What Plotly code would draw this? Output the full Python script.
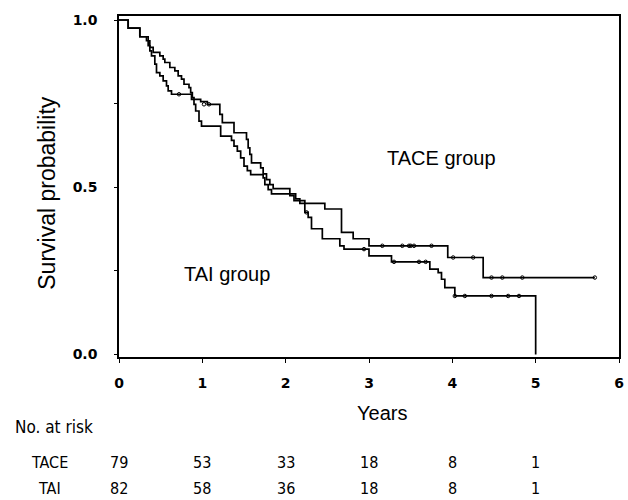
import plotly.graph_objects as go

# Kaplan-Meier step data (time in years, survival after step)
tace_t = [0, 0.11, 0.25, 0.33, 0.37, 0.41, 0.49, 0.53, 0.55, 0.61, 0.67, 0.71, 0.75, 0.78, 0.84, 0.86, 0.88,
          0.90, 0.92, 0.96, 0.99, 1.22, 1.35, 1.38, 1.42, 1.46, 1.50, 1.54, 1.58, 1.73, 1.75, 1.79, 1.83,
          2.12, 2.17, 2.47, 2.67, 2.81, 3.00, 3.945, 4.37, 5.71]
tace_s = [1.0, 0.976, 0.95, 0.938, 0.918, 0.903, 0.893, 0.883, 0.873, 0.858, 0.848, 0.833, 0.823, 0.808, 0.798, 0.783, 0.768,
          0.748, 0.728, 0.698, 0.683, 0.653, 0.64, 0.623, 0.608, 0.588, 0.563, 0.55, 0.538, 0.528, 0.508, 0.493, 0.48,
          0.465, 0.452, 0.435, 0.365, 0.346, 0.325, 0.29, 0.23, 0.23]
tace_cens_t = [3.16, 3.40, 3.48, 3.50, 3.54, 3.75, 4.01, 4.25, 4.47, 4.60, 4.84, 5.71]
tace_cens_s = [0.325, 0.325, 0.325, 0.325, 0.325, 0.325, 0.29, 0.29, 0.23, 0.23, 0.23, 0.23]

tai_t = [0, 0.11, 0.25, 0.35, 0.37, 0.39, 0.43, 0.45, 0.49, 0.53, 0.57, 0.59, 0.63, 0.87, 0.98, 1.06,
         1.21, 1.24, 1.38, 1.53, 1.55, 1.57, 1.59, 1.70, 1.73, 1.77, 1.81, 1.85, 2.05, 2.10, 2.23, 2.27, 2.31,
         2.44, 2.65, 2.70, 3.00, 3.27, 3.73, 3.83, 3.87, 3.91, 4.03, 5.0, 5.0]
tai_s = [1.0, 0.976, 0.95, 0.923, 0.908, 0.893, 0.868, 0.843, 0.833, 0.818, 0.803, 0.788, 0.778, 0.763, 0.756, 0.748,
         0.718, 0.693, 0.663, 0.643, 0.618, 0.598, 0.573, 0.558, 0.54, 0.523, 0.508, 0.496, 0.475, 0.46, 0.425, 0.41, 0.376,
         0.346, 0.325, 0.315, 0.295, 0.277, 0.255, 0.245, 0.225, 0.2, 0.175, 0.175, 0.0]
tai_cens_t = [0.72, 1.02, 1.08, 2.25, 2.94, 3.30, 3.60, 3.68, 4.03, 4.15, 4.47, 4.67, 4.80]
tai_cens_s = [0.778, 0.748, 0.748, 0.425, 0.315, 0.277, 0.277, 0.277, 0.175, 0.175, 0.175, 0.175, 0.175]

x_ticks = [0, 1, 2, 3, 4, 5, 6]
y_tickvals = [0, 0.25, 0.5, 0.75, 1.0]
y_ticktext = ["0.0", "", "0.5", "", "1.0"]

risk_years = [0, 1, 2, 3, 4, 5]
risk_tace = [79, 53, 33, 18, 8, 1]
risk_tai = [82, 58, 36, 18, 8, 1]

fig = go.Figure()
for t, s in [(tace_t, tace_s), (tai_t, tai_s)]:
    fig.add_trace(go.Scatter(x=t, y=s, mode="lines", line=dict(color="black", width=1.7, shape="hv"),
                             showlegend=False, hoverinfo="skip"))
for t, s in [(tace_cens_t, tace_cens_s), (tai_cens_t, tai_cens_s)]:
    fig.add_trace(go.Scatter(x=t, y=s, mode="markers",
                             marker=dict(symbol="circle-open", size=3.5, color="black", line=dict(width=1)),
                             showlegend=False, hoverinfo="skip"))

L, R, T, B = 119, 4, 16, 143
W, H = 628, 500
pw, ph = W - L - R, H - T - B

def px(X):
    return (X - L) / pw

def py(Y):
    return (H - B - Y) / ph

ann = []
arial = "Liberation Sans, Arial, sans-serif"
tah = "DejaVu Sans Condensed, DejaVu Sans, sans-serif"
ver = "DejaVu Sans, Verdana, sans-serif"

def add(text, X, Y, size, family, xanchor="center", angle=0, xref="paper", xval=None):
    ann.append(dict(text=text, x=px(X) if xval is None else xval, y=py(Y), xref=xref, yref="paper",
                    xanchor=xanchor, yanchor="middle", textangle=angle, showarrow=False,
                    font=dict(family=family, size=size, color="black")))

add("Survival probability", 46, 193, 23, arial, angle=-90)
add("Years", 385, 413, 20, arial)
add("TACE group", 388, 158, 20, arial, xanchor="left")
add("TAI group", 183, 274, 20, arial, xanchor="left")
add("No. at risk", 12, 427, 17, tah, xanchor="left")
add("TACE", 49, 462, 16, tah)
add("TAI", 49, 488, 16, tah)
for yr, a, b in zip(risk_years, risk_tace, risk_tai):
    add(str(a), 0, 462, 16, tah, xref="x", xval=yr)
    add(str(b), 0, 488, 16, tah, xref="x", xval=yr)

fig.update_layout(
    width=W, height=H, margin=dict(l=L, r=R, t=T, b=B, pad=0),
    paper_bgcolor="white", plot_bgcolor="white",
    annotations=ann,
    xaxis=dict(range=[0, 6], tickvals=x_ticks, ticks="outside", ticklen=4, tickwidth=1.2, tickcolor="black",
               showline=True, linecolor="black", linewidth=1.5, mirror=True, showgrid=False, zeroline=False,
               ticklabelstandoff=8, tickfont=dict(family=ver, size=14, color="black", weight="bold")),
    yaxis=dict(range=[-0.0075, 1.012], tickvals=y_tickvals, ticktext=y_ticktext, ticks="outside", ticklen=3,
               tickwidth=1.2, tickcolor="black", showline=True, linecolor="black", linewidth=1.5, mirror=True,
               showgrid=False, zeroline=False, ticklabelstandoff=14,
               tickfont=dict(family=ver, size=14, color="black", weight="bold")),
)
fig.write_html("out.html", config={"displayModeBar": False},
               post_script="document.body.style.margin='0';document.body.style.padding='0';")
